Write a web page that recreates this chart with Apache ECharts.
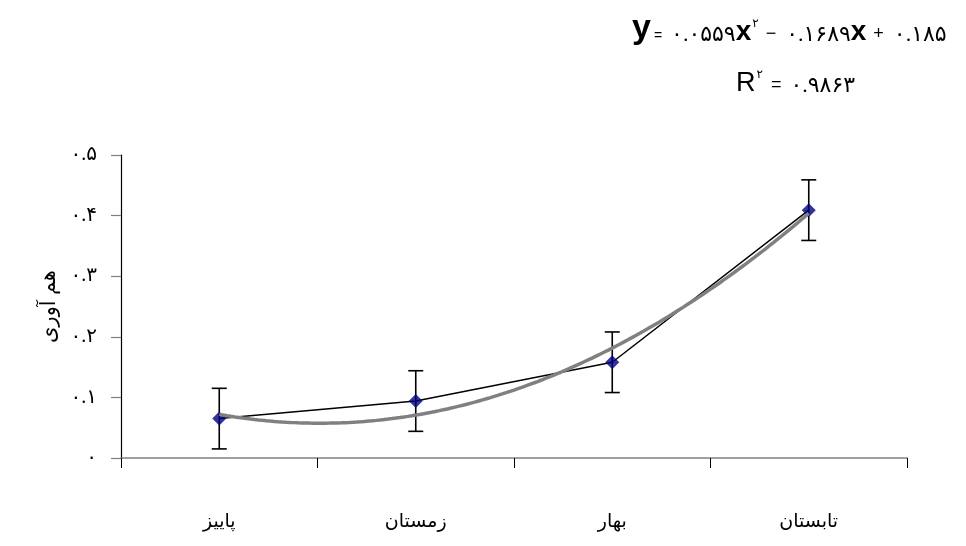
<!DOCTYPE html>
<html>
<head>
<meta charset="utf-8">
<script src="https://cdn.jsdelivr.net/npm/echarts@6/dist/echarts.min.js"></script>
<style>
  html, body { margin: 0; padding: 0; background: #fff; }
  #chart { width: 966px; height: 546px; }
</style>
</head>
<body>
<div id="chart"></div>
<script>
// Seasons, mean values and error margins
const categories = ['پاییز', 'زمستان', 'بهار', 'تابستان'];
const values = [0.065, 0.094, 0.158, 0.409];
const errors = [0.05, 0.05, 0.05, 0.05];
// Quadratic trendline: a*x^2 + b*x + c, with its R^2
const trendCoef = [0.0559, -0.1689, 0.185];
const rSquared = 0.9863;
const yTicks = [0, 0.1, 0.2, 0.3, 0.4, 0.5];

const faDigits = '۰۱۲۳۴۵۶۷۸۹';
function toFa(s) {
  return String(s).replace(/[0-9]/g, d => faDigits[+d]);
}

// Points along the trendline between the first and last season
const trendData = [];
for (let i = 0; i <= 150; i++) {
  const x = 1 + i * 0.02;
  trendData.push([x, trendCoef[0] * x * x + trendCoef[1] * x + trendCoef[2]]);
}

const errData = values.map((v, i) => [i, v - errors[i], v + errors[i]]);

const serif = '"Times New Roman", "Liberation Serif", "DejaVu Sans", serif';
const sans = 'Arial, "Liberation Sans", sans-serif';
const chart = echarts.init(document.getElementById('chart'));

const a = toFa(trendCoef[0].toFixed(4));
const b = toFa(Math.abs(trendCoef[1]).toFixed(4));
const c = toFa(trendCoef[2].toFixed(3));
const r = toFa(rSquared.toFixed(4));

const eqRich = {
  v: { fontFamily: sans, fontSize: 34, fontWeight: 'bold', fill: '#000', verticalAlign: 'bottom' },
  x: { fontFamily: sans, fontSize: 28, fontWeight: 'bold', fill: '#000', verticalAlign: 'bottom' },
  R: { fontFamily: sans, fontSize: 27, fill: '#000', verticalAlign: 'bottom' },
  eq: { fontFamily: sans, fontSize: 14, fill: '#000', verticalAlign: 'bottom', padding: [0, 9, 3, 3] },
  eq2: { fontFamily: sans, fontSize: 18, fill: '#000', verticalAlign: 'bottom', padding: [0, 9, 3, 8] },
  op: { fontFamily: sans, fontSize: 18, fill: '#000', verticalAlign: 'bottom', padding: [0, 10, 3, 7] },
  n: { fontFamily: serif, fontSize: 22, fill: '#000', verticalAlign: 'bottom' },
  sup: { fontFamily: serif, fontSize: 12, fill: '#000', verticalAlign: 'bottom', padding: [0, 0, 16, 1] }
};

chart.setOption({
  animation: false,
  backgroundColor: '#fff',
  grid: { left: 121, right: 59, top: 155, bottom: 88 },
  xAxis: [
    {
      type: 'category',
      data: categories,
      boundaryGap: true,
      axisLine: { lineStyle: { color: '#808080', width: 1.5 } },
      axisTick: { show: true, length: 10, lineStyle: { color: '#000', width: 1 } },
      axisLabel: { margin: 55, fontFamily: serif, fontSize: 19, color: '#000' }
    },
    {
      type: 'value',
      min: 0.5, max: 4.5,
      show: false
    }
  ],
  yAxis: {
    type: 'value',
    min: yTicks[0], max: yTicks[yTicks.length - 1], interval: 0.1,
    name: 'هم آوری',
    nameLocation: 'middle',
    nameRotate: 90,
    nameGap: 56,
    nameTextStyle: { fontFamily: serif, fontSize: 21, color: '#000' },
    splitLine: { show: false },
    axisLine: { show: true, lineStyle: { color: '#000', width: 1.2 } },
    axisTick: { show: true, length: 10, lineStyle: { color: '#808080', width: 1.2 } },
    axisLabel: {
      margin: 24, fontFamily: serif, fontSize: 20, color: '#000',
      formatter: v => v === 0 ? toFa('0') : toFa(v.toFixed(1))
    }
  },
  series: [
    {
      type: 'line',
      data: values,
      xAxisIndex: 0,
      symbol: 'none',
      lineStyle: { color: '#000', width: 1.5 },
      z: 2
    },
    {
      type: 'custom',
      xAxisIndex: 0,
      data: errData,
      z: 3,
      renderItem: (params, api) => {
        const lo = api.coord([api.value(0), api.value(1)]);
        const hi = api.coord([api.value(0), api.value(2)]);
        const w = 7.5;
        const st = { stroke: '#000', lineWidth: 1.6 };
        return {
          type: 'group',
          children: [
            { type: 'line', shape: { x1: lo[0], y1: lo[1], x2: hi[0], y2: hi[1] }, style: st },
            { type: 'line', shape: { x1: lo[0] - w, y1: lo[1], x2: lo[0] + w, y2: lo[1] }, style: st },
            { type: 'line', shape: { x1: hi[0] - w, y1: hi[1], x2: hi[0] + w, y2: hi[1] }, style: st }
          ]
        };
      }
    },
    {
      type: 'scatter',
      data: values,
      xAxisIndex: 0,
      symbol: 'diamond',
      symbolSize: 14,
      itemStyle: { color: '#000080' },
      z: 4
    },
    {
      type: 'line',
      data: trendData,
      xAxisIndex: 1,
      symbol: 'none',
      lineStyle: { color: '#808080', width: 3.5 },
      z: 5
    }
  ],
  graphic: [
    {
      type: 'text',
      left: 632, top: 12,
      style: {
        text: `{v|y}{eq|=}{n|${a}}{x|x}{sup|${toFa(2)}}{op|−}{n|${b}}{x|x}{op|+}{n|${c}}`,
        rich: eqRich
      }
    },
    {
      type: 'text',
      left: 736, top: 69,
      style: {
        text: `{R|R}{sup|${toFa(2)}}{eq2|=}{n|${r}}`,
        rich: eqRich
      }
    }
  ]
});
</script>
</body>
</html>
